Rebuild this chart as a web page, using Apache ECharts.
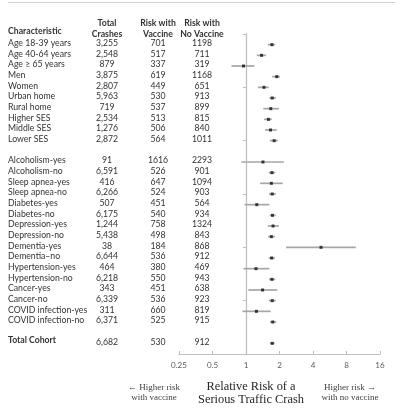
<!DOCTYPE html>
<html><head><meta charset="utf-8">
<script src="https://cdn.jsdelivr.net/npm/echarts@6/dist/echarts.min.js"></script>
<style>html,body{margin:0;padding:0;background:#fff}#c{width:400px;height:415px}</style>
</head><body><div id="c"></div>
<script>
const characteristics = ['Age 18-39 years','Age 40-64 years','Age \u2265 65 years','Men','Women','Urban home','Rural home','Higher SES','Middle SES','Lower SES','',
 'Alcoholism-yes','Alcoholism-no','Sleep apnea-yes','Sleep apnea-no','Diabetes-yes','Diabetes-no','Depression-yes','Depression-no','Dementia-yes','Dementia\u2013no','Hypertension-yes','Hypertension-no','Cancer-yes','Cancer-no','COVID infection-yes','COVID infection-no','',
 'Total Cohort'];
const totalCrashes = [3255,2548,879,3875,2807,5963,719,2534,1276,2872,null,91,6591,416,6266,507,6175,1244,5438,38,6644,464,6218,343,6339,311,6371,null,6682];
const riskVaccine = [701,517,337,619,449,530,537,513,506,564,null,1616,526,647,524,451,540,758,498,184,536,380,550,451,536,660,525,null,530];
const riskNoVaccine = [1198,711,319,1168,651,913,899,815,840,1011,null,2293,901,1094,903,564,934,1324,843,868,912,469,943,638,923,819,915,null,912];
const relRisk = [1.71,1.38,0.95,1.89,1.45,1.72,1.67,1.59,1.66,1.79,null,1.42,1.71,1.69,1.72,1.25,1.73,1.75,1.69,4.72,1.70,1.23,1.71,1.41,1.72,1.24,1.74,null,1.72];
const ciLow = [1.57,1.25,0.74,1.72,1.28,1.62,1.43,1.45,1.48,1.64,null,0.91,1.60,1.34,1.61,0.97,1.63,1.57,1.58,2.29,1.60,0.95,1.61,1.05,1.61,0.93,1.64,null,1.64];
const ciHigh = [1.82,1.51,1.19,2.02,1.60,1.85,1.98,1.71,1.89,1.93,null,2.19,1.83,2.14,1.85,1.62,1.85,1.98,1.82,9.7,1.82,1.62,1.83,1.91,1.85,1.67,1.87,null,1.81];
const xTicks = [0.25,0.5,1,2,4,8,16];

const FONT = 'Lato';
const TXT = '#333';
const fmtComma = v => (v == null ? '' : v.toLocaleString('en-US'));
const fmtPlain = v => (v == null ? '' : String(v));
// category slots: 0 header, 1..29 rows, 30 end
const pad = (arr, f) => [''].concat(arr.map(f)).concat(['']);
const G = {left:179, right:20, top:34, bottom:61};
const gridW = 400 - G.left - G.right;
const xOne = G.left + gridW * (Math.log2(1) - Math.log2(xTicks[0])) / (Math.log2(xTicks[xTicks.length-1]) - Math.log2(xTicks[0]));

function catAxis(data, x, align, boldRow) {
  return {
    type:'category', data:data, boundaryGap:false, inverse:true, position:'left',
    offset: G.left - x,
    axisLine:{show:false}, axisTick:{show:false}, splitLine:{show:false},
    axisLabel:{interval:0, margin:0, align:align, fontFamily:FONT, fontSize:8.7, color:TXT, padding:[0,0,3,0],
      formatter: v => (boldRow && v === boldRow ? '{b|' + v + '}' : v),
      rich:{b:{fontWeight:'bold', fontFamily:FONT, fontSize:8.7, color:TXT, padding:[0,0,3,0]}}}
  };
}

const errData = [], ptData = [];
relRisk.forEach((r,i) => {
  if (r == null) return;
  errData.push([ciLow[i], ciHigh[i], i+1]);
  ptData.push([r, i+1]);
});

const chart = echarts.init(document.getElementById('c'), null, {renderer:'canvas'});
chart.setOption({
  animation:false,
  grid:{left:G.left, right:G.right, top:G.top, bottom:G.bottom, containLabel:false},
  xAxis:{type:'log', logBase:2, min:xTicks[0], max:xTicks[xTicks.length-1], splitNumber:6,
    axisLine:{onZero:false, lineStyle:{color:'#bfbfbf', width:1}},
    axisTick:{inside:true, length:3, lineStyle:{color:'#bfbfbf'}},
    splitLine:{show:false}, minorTick:{show:false},
    axisLabel:{fontFamily:FONT, fontSize:8, color:'#595959', margin:7, showMinLabel:true, showMaxLabel:true,
      formatter: v => String(+(+v).toPrecision(3))}},
  yAxis:[
    {type:'value', min:0, max:30, interval:5, inverse:true, position:'left', offset:G.left - xOne,
      axisLine:{show:true, onZero:false, lineStyle:{color:'#bfbfbf', width:1.3}},
      axisTick:{show:true, length:3, lineStyle:{color:'#bfbfbf'}},
      axisLabel:{show:false}, splitLine:{show:false}},
    catAxis([''].concat(characteristics).concat(['']), 8, 'left', 'Total Cohort'),
    catAxis(pad(totalCrashes, fmtComma), 107, 'center'),
    catAxis(pad(riskVaccine, fmtPlain), 158, 'center'),
    catAxis(pad(riskNoVaccine, fmtPlain), 202, 'center')
  ],
  series:[
    {type:'custom', yAxisIndex:0, encode:{x:[0,1], y:2}, data:errData, z:2,
      renderItem:(params, api) => {
        const a = api.coord([api.value(0), api.value(2)]);
        const b = api.coord([api.value(1), api.value(2)]);
        return {type:'line', shape:{x1:a[0], y1:a[1], x2:b[0], y2:b[1]}, style:{stroke:'#a6a6a6', lineWidth:1.7}};
      }},
    {type:'scatter', yAxisIndex:0, data:ptData, symbol:'rect', symbolSize:[3,3], z:3,
      itemStyle:{color:'#111'}}
  ],
  graphic:[
    {type:'line', shape:{x1:8, y1:2.5, x2:395, y2:2.5}, style:{stroke:'#d0d0d0', lineWidth:1}},
    {type:'text', left:8, top:27, style:{text:'Characteristic', font:'bold 8.7px Lato', fill:TXT}},
    {type:'text', x:107, y:29, style:{text:'Total\nCrashes', font:'bold 8.7px Lato', fill:TXT, align:'center', verticalAlign:'middle', lineHeight:11}},
    {type:'text', x:158, y:29, style:{text:'Risk with\nVaccine', font:'bold 8.7px Lato', fill:TXT, align:'center', verticalAlign:'middle', lineHeight:11}},
    {type:'text', x:202, y:29, style:{text:'Risk with\nNo Vaccine', font:'bold 8.7px Lato', fill:TXT, align:'center', verticalAlign:'middle', lineHeight:11}},
    {type:'text', x:154, y:393, style:{text:'\u2190 Higher risk\nwith vaccine', font:'9px "Liberation Serif"', fill:'#404040', align:'center', verticalAlign:'middle', lineHeight:10}},
    {type:'text', x:251, y:393.5, style:{text:'Relative Risk of a\nSerious Traffic Crash', font:'12.4px "Liberation Serif"', fill:'#262626', align:'center', verticalAlign:'middle', lineHeight:13}},
    {type:'text', x:350, y:393, style:{text:'Higher risk \u2192\nwith no vaccine', font:'9px "Liberation Serif"', fill:'#404040', align:'center', verticalAlign:'middle', lineHeight:10}}
  ]
});
</script></body></html>
